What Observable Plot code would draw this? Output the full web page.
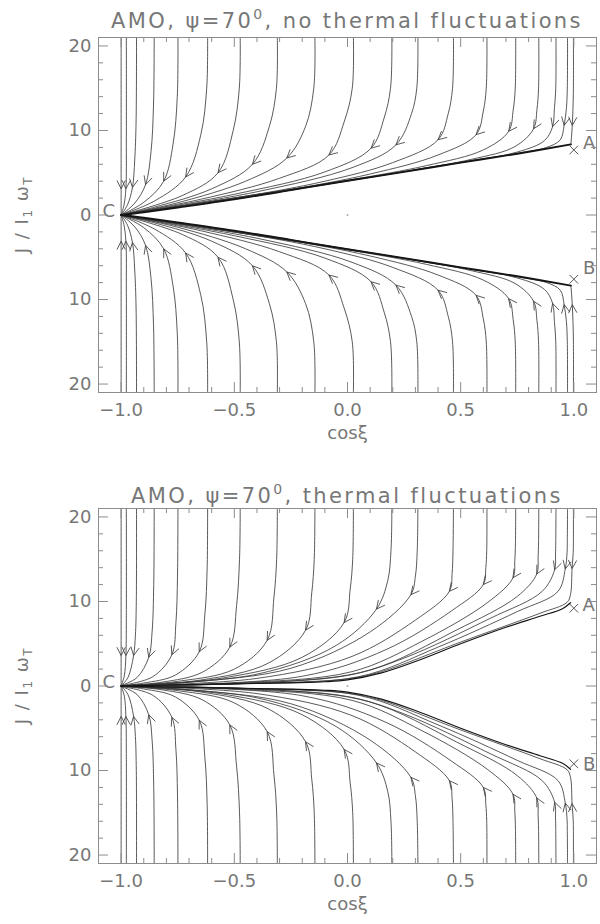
<!DOCTYPE html>
<html><head><meta charset="utf-8">
<script src="https://cdn.jsdelivr.net/npm/d3@7"></script>
<script src="https://cdn.jsdelivr.net/npm/@observablehq/plot@0.6"></script>
<style>
body{margin:0;background:#fff;}
#chart svg{display:block;}
</style></head><body><div id="chart"></div>
<script>
// ---------- axis ticks ----------
const xMajor = [-1, -0.5, 0, 0.5, 1];
const xMinor = [-0.9,-0.8,-0.7,-0.6,-0.4,-0.3,-0.2,-0.1,0.1,0.2,0.3,0.4,0.6,0.7,0.8,0.9];
const yMajor = [-20, -10, 0, 10, 20];
const yMinor = [-18,-16,-14,-12,-8,-6,-4,-2,2,4,6,8,12,14,16,18];
const xLabel = "cosξ";

// ---------- panel 1: no thermal fluctuations (upper half, [cosξ, J]); lower half mirrors it ----------
const nfTitle = ["AMO, ψ=70", "0", ", no thermal fluctuations"];
const nfCurves = [
  [[-1,21],[-1,3.1],[-1,0]],
  [[-0.977,21],[-0.977,9],[-0.979,3.1],[-0.988,1.1],[-1,0]],
  [[-0.932,21],[-0.934,11],[-0.94,6.5],[-0.95,3.25],[-0.972,1.2],[-1,0]],
  [[-0.854,21],[-0.857,13],[-0.868,7.5],[-0.892,3.6],[-0.94,1.4],[-1,0]],
  [[-0.749,21],[-0.752,14],[-0.77,8.5],[-0.812,4.0],[-0.9,1.5],[-1,0]],
  [[-0.618,21],[-0.622,15],[-0.648,9.5],[-0.715,4.5],[-0.85,1.7],[-1,0]],
  [[-0.474,21],[-0.478,15],[-0.505,10],[-0.572,5.0],[-0.73,2.3],[-1,0]],
  [[-0.31,21],[-0.314,15],[-0.345,10.5],[-0.42,6.0],[-0.6,3.1],[-0.85,0.95],[-1,0]],
  [[-0.144,21],[-0.149,15],[-0.185,10.5],[-0.268,6.74],[-0.45,4.0],[-0.75,1.45],[-1,0]],
  [[0.026,21],[0.021,15],[-0.015,11],[-0.082,7.1],[-0.3,4.35],[-0.65,1.85],[-1,0]],
  [[0.196,21],[0.19,15],[0.162,11.5],[0.104,7.9],[-0.1,5.1],[-0.5,2.45],[-1,0]],
  [[0.311,21],[0.306,15],[0.283,12],[0.214,8.3],[0.02,5.6],[-0.4,2.75],[-1,0]],
  [[0.468,21],[0.464,15],[0.445,12],[0.4,8.9],[0.2,6.2],[-0.1,4.0],[-0.5,2.0],[-1,0]],
  [[0.616,21],[0.613,15],[0.6,12.3],[0.568,9.5],[0.4,7.1],[0.1,4.85],[-0.3,2.8],[-1,0]],
  [[0.743,21],[0.741,15],[0.732,12.4],[0.712,9.9],[0.6,7.7],[0.35,5.85],[0,4.1],[-0.5,1.87],[-1,0]],
  [[0.845,21],[0.844,15],[0.837,12.5],[0.822,10.2],[0.74,8.1],[0.55,6.6],[0.25,5.15],[-0.25,2.95],[-1,0]],
  [[0.921,21],[0.92,15],[0.914,12.6],[0.906,10.45],[0.87,8.8],[0.75,7.45],[0.5,6.25],[0,4.08],[-1,0]],
  [[0.972,21],[0.971,15],[0.967,12.6],[0.957,10.6],[0.94,8.9],[0.88,8.0],[0.75,7.3],[0.5,6.2],[0,4.05],[-1,0]],
  [[0.998,21],[0.998,15],[0.996,12.6],[0.993,10.6],[0.987,8.4]]
];
const nfArrowIdx = [1,2,3,3,3,3,3,3,3,3,3,3,3,3,3,3,3,3,3];
const nfSeparatrix = [[0.987,8.35],[0.75,7.25],[0.5,6.2],[0.25,5.1],[0,4.05],[-0.25,2.95],[-0.5,1.85],[-0.75,0.88],[-0.9,0.32],[-1,0]];
const nfCross = [{x:1, y:7.7}, {x:1, y:-7.6}];
const nfLabels = [{x:1.068, y:8.5, t:"A"}, {x:1.068, y:-6.3, t:"B"}, {x:-1.055, y:0.5, t:"C"}];

// ---------- panel 2: thermal fluctuations ----------
const tfTitle = ["AMO, ψ=70", "0", ", thermal fluctuations"];
const tfCurves = [
  [[-1,21],[-1,3.6],[-1,0]],
  [[-0.977,21],[-0.977,8],[-0.979,3.6],[-0.986,1.2],[-1,0]],
  [[-0.932,21],[-0.933,10],[-0.937,6],[-0.945,3.6],[-0.97,1.0],[-1,0]],
  [[-0.854,21],[-0.856,12],[-0.863,6.5],[-0.878,3.4],[-0.93,1.0],[-1,0.05]],
  [[-0.749,21],[-0.751,13],[-0.758,7.5],[-0.776,3.7],[-0.86,1.1],[-1,0.05]],
  [[-0.618,21],[-0.62,14],[-0.63,8.5],[-0.655,4.05],[-0.76,1.3],[-0.9,0.35],[-1,0.02]],
  [[-0.474,21],[-0.477,15],[-0.49,9.5],[-0.52,4.6],[-0.64,1.65],[-0.82,0.45],[-1,0.02]],
  [[-0.31,21],[-0.313,15],[-0.325,10.5],[-0.355,5.4],[-0.5,2.0],[-0.75,0.55],[-1,0.02]],
  [[-0.144,21],[-0.147,15],[-0.158,11],[-0.185,6.6],[-0.35,2.7],[-0.65,0.7],[-1,0.02]],
  [[0.026,21],[0.023,15],[0.012,11.5],[-0.015,7.5],[-0.2,3.4],[-0.55,0.95],[-1,0.02]],
  [[0.196,21],[0.192,16],[0.178,12.5],[0.128,9.1],[-0.05,4.8],[-0.4,1.4],[-1,0.02]],
  [[0.311,21],[0.308,16],[0.3,13],[0.28,10.8],[0.1,6.4],[-0.25,2.1],[-0.7,0.45],[-1,0.02]],
  [[0.468,21],[0.466,16],[0.462,13.3],[0.45,11.2],[0.3,7.8],[0.02,3.5],[-0.4,0.9],[-1,0.02]],
  [[0.616,21],[0.615,16],[0.611,14],[0.6,12.0],[0.46,8.9],[0.17,4.3],[-0.2,1.15],[-1,0.02]],
  [[0.743,21],[0.742,17],[0.739,14.8],[0.731,12.8],[0.62,9.9],[0.33,5.3],[0.02,1.7],[-0.5,0.35],[-1,0.02]],
  [[0.845,21],[0.844,17],[0.842,15.3],[0.836,13.25],[0.75,10.6],[0.48,6.6],[0.1,1.9],[-0.3,0.5],[-1,0.02]],
  [[0.921,21],[0.92,17],[0.919,15.6],[0.915,13.75],[0.86,11.2],[0.63,8.0],[0.25,3.3],[0,1.25],[-0.5,0.3],[-1,0.02]],
  [[0.972,21],[0.971,17],[0.97,15.8],[0.962,13.85],[0.93,11.2],[0.75,8.8],[0.4,4.6],[0.05,1.1],[-0.5,0.27],[-1,0.02]],
  [[0.998,21],[0.998,17],[0.997,15.8],[0.992,13.9],[0.985,10.8],[0.97,9.9],[0.85,8.6],[0.5,5.2],[0.15,1.7],[0,0.85],[-0.5,0.25],[-1,0]]
];
const tfArrowIdx = [1,2,3,3,3,3,3,3,3,3,3,3,3,3,3,3,3,3,3];
const tfSeparatrix = [[0.985,9.85],[0.95,9.15],[0.85,8.25],[0.7,6.95],[0.5,5.0],[0.3,2.9],[0.15,1.55],[0,0.72],[-0.1,0.5],[-0.25,0.38],[-0.5,0.25],[-0.8,0.12],[-1,0]];
const tfCross = [{x:1, y:9.2}, {x:1, y:-9.2}];
const tfLabels = [{x:1.065, y:9.6, t:"A"}, {x:1.068, y:-9.2, t:"B"}, {x:-1.055, y:0.4, t:"C"}];

const centerDot = [{x:0, y:0}];

// ---------- drawing ----------
const FONT = "DejaVu Sans";
const textColor = "#777";
const axisColor = "#8c8c8c";
const curveColor = "#3c3c3c";
const xDomain = [-1.1, 1.1], yDomain = [-21, 21];
const mL = 98, mR = 4, mT = 37, frameH = 355;
const sx = d3.scaleLinear(xDomain, [mL, 600 - mR]);
const sy = d3.scaleLinear(yDomain, [mT + frameH, mT]);

function panel(cfg) {
  const all = [];
  cfg.curves.forEach((pts, i) => {
    all.push({pts, a: cfg.arrowIdx[i]});
    all.push({pts: pts.map(([x, y]) => [x, -y]), a: cfg.arrowIdx[i]});
  });
  const rows = [], arrows = [];
  all.forEach((c, k) => {
    c.pts.forEach(([x, y]) => rows.push({x, y, id: k}));
    const tip = c.pts[c.a], p0 = c.pts[c.a - 1], p1 = c.pts[c.a + 1];
    const px = sx(tip[0]), py = sy(tip[1]);
    let dx = sx(p1[0]) - sx(p0[0]), dy = sy(p1[1]) - sy(p0[1]);
    const n = Math.hypot(dx, dy); dx /= n; dy /= n;
    const L = 8, Wd = 4;
    [[px - dx * L - dy * Wd, py - dy * L + dx * Wd], [px, py], [px - dx * L + dy * Wd, py - dy * L - dx * Wd]]
      .forEach(([qx, qy]) => arrows.push({x: sx.invert(qx), y: sy.invert(qy), id: k}));
  });
  const sepRows = [
    ...cfg.sep.map(([x, y]) => ({x, y, id: 0})),
    ...cfg.sep.map(([x, y]) => ({x, y: -y, id: 1}))
  ];
  const height = cfg.height;
  const svg = Plot.plot({
    width: 600, height,
    marginLeft: mL, marginRight: mR, marginTop: mT, marginBottom: height - mT - frameH,
    x: {domain: xDomain, axis: null},
    y: {domain: yDomain, axis: null},
    style: {fontFamily: FONT, background: "white"},
    marks: [
      Plot.line(rows, {x: "x", y: "y", z: "id", curve: "catmull-rom", stroke: curveColor, strokeWidth: 0.85}),
      Plot.line(sepRows, {x: "x", y: "y", z: "id", curve: "catmull-rom", stroke: "#151515", strokeWidth: cfg.sepWidth}),
      Plot.line(arrows, {x: "x", y: "y", z: "id", stroke: curveColor, strokeWidth: 0.85}),
      Plot.dot(cfg.cross, {x: "x", y: "y", symbol: "times", r: 4, stroke: "#555", strokeWidth: 1}),
      Plot.dot(centerDot, {x: "x", y: "y", r: 1, fill: "#aaa", stroke: null}),
      Plot.text(cfg.labels, {x: "x", y: "y", text: "t", fontSize: 18, fill: textColor}),
      // ticks inside the frame, on all four sides
      Plot.ruleX(xMajor, {x: d => d, insetTop: frameH - 10, stroke: axisColor}),
      Plot.ruleX(xMinor, {x: d => d, insetTop: frameH - 5, stroke: axisColor}),
      Plot.ruleX(xMajor, {x: d => d, insetBottom: frameH - 10, stroke: axisColor}),
      Plot.ruleX(xMinor, {x: d => d, insetBottom: frameH - 5, stroke: axisColor}),
      Plot.ruleY(yMajor, {y: d => d, insetRight: 498 - 10, stroke: axisColor}),
      Plot.ruleY(yMinor, {y: d => d, insetRight: 498 - 5, stroke: axisColor}),
      Plot.ruleY(yMajor, {y: d => d, insetLeft: 498 - 10, stroke: axisColor}),
      Plot.ruleY(yMinor, {y: d => d, insetLeft: 498 - 5, stroke: axisColor}),
      Plot.frame({stroke: axisColor, strokeWidth: 1}),
      Plot.text(yMajor, {y: d => d, frameAnchor: "left", dx: -7, textAnchor: "end", text: d => String(Math.abs(d)), fontSize: 18, fill: textColor}),
      Plot.text(xMajor, {x: d => d, frameAnchor: "bottom", dy: 23, text: d => d3.format(".1f")(d), fontSize: 18, fill: textColor}),
      Plot.text([xLabel], {frameAnchor: "bottom", dy: 46, text: d => d, fontSize: 18, fill: textColor})
    ]
  });
  const s = d3.select(svg);
  // title with superscript
  const t = s.append("text").attr("x", (mL + 600 - mR) / 2).attr("y", cfg.titleY)
    .attr("text-anchor", "middle").attr("font-family", FONT).attr("font-size", 21)
    .attr("letter-spacing", 2.4).attr("fill", textColor);
  t.append("tspan").text(cfg.title[0]);
  t.append("tspan").attr("font-size", 14).attr("dy", -9).text(cfg.title[1]);
  t.append("tspan").attr("font-size", 21).attr("dy", 9).text(cfg.title[2]);
  // y-axis label J/I1 ωT
  const yl = s.append("text").attr("transform", `translate(28,${mT + frameH / 2}) rotate(-90)`)
    .attr("text-anchor", "middle").attr("font-family", FONT).attr("font-size", 18)
    .attr("letter-spacing", 1.5).attr("fill", textColor);
  yl.append("tspan").text("J / I");
  yl.append("tspan").attr("font-size", 12).attr("dy", 4).text("1");
  yl.append("tspan").attr("dy", -4).text(" ω");
  yl.append("tspan").attr("font-size", 12).attr("dy", 4).text("T");
  return svg;
}

const root = document.getElementById("chart");
root.appendChild(panel({height: 471, curves: nfCurves, arrowIdx: nfArrowIdx, sep: nfSeparatrix, sepWidth: 1.9,
  cross: nfCross, labels: nfLabels, title: nfTitle, titleY: 28}));
root.appendChild(panel({height: 453, curves: tfCurves, arrowIdx: tfArrowIdx, sep: tfSeparatrix, sepWidth: 1.2,
  cross: tfCross, labels: tfLabels, title: tfTitle, titleY: 32}));
</script></body></html>
